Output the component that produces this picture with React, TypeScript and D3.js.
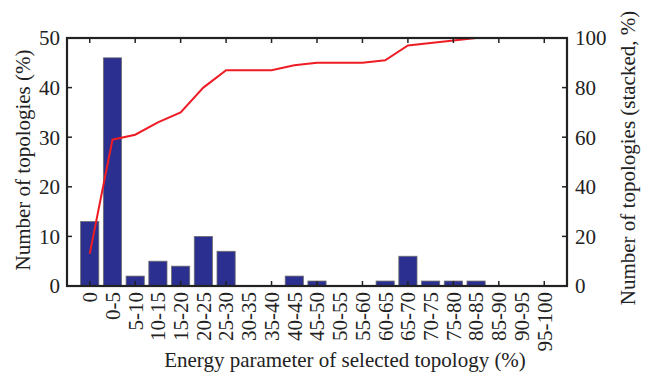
import React, { useEffect, useRef } from 'react';
import * as d3 from 'd3';

const categories = [
  '0', '0-5', '5-10', '10-15', '15-20', '20-25', '25-30', '30-35', '35-40', '40-45',
  '45-50', '50-55', '55-60', '60-65', '65-70', '70-75', '75-80', '80-85', '85-90',
  '90-95', '95-100',
];
const shares = [13, 46, 2, 5, 4, 10, 7, 0, 0, 2, 1, 0, 0, 1, 6, 1, 1, 1, 0, 0, 0];
const stacked = [13, 59, 61, 66, 70, 80, 87, 87, 87, 89, 90, 90, 90, 91, 97, 98, 99, 100, 100, 100, 100];
const leftTicks = [0, 10, 20, 30, 40, 50];
const rightTicks = [0, 20, 40, 60, 80, 100];

const W = 648;
const H = 374;
const margin = { top: 38, right: 81, bottom: 88, left: 67 };
const font = '"Liberation Serif", "DejaVu Serif", serif';

const App: React.FC = () => {
  const ref = useRef<SVGSVGElement | null>(null);

  useEffect(() => {
    if (!ref.current) return;
    const svg = d3.select<SVGSVGElement, unknown>(ref.current);
    svg.selectAll('*').remove();

    const iw = W - margin.left - margin.right;
    const ih = H - margin.top - margin.bottom;

    const x = d3.scaleLinear().domain([-1, categories.length]).range([0, iw]);
    const yL = d3.scaleLinear().domain([0, 50]).range([ih, 0]);
    const yR = d3.scaleLinear().domain([0, 100]).range([ih, 0]);
    const bw = (x(1) - x(0)) * 0.8;

    const g = svg.append('g').attr('transform', `translate(${margin.left},${margin.top})`);

    // bars
    g.selectAll('rect.bar')
      .data(shares)
      .enter()
      .append('rect')
      .attr('class', 'bar')
      .attr('x', (_d: number, i: number) => x(i) - bw / 2)
      .attr('width', bw)
      .attr('y', (d: number) => yL(d))
      .attr('height', (d: number) => ih - yL(d))
      .attr('fill', '#2b2f8f')
      .attr('stroke', '#6e6e6e')
      .attr('stroke-width', (d: number) => (d > 0 ? 0.8 : 0));

    // cumulative line
    const line = d3
      .line<number>()
      .x((_d: number, i: number) => x(i))
      .y((d: number) => yR(d));
    g.append('path')
      .datum(stacked)
      .attr('d', line)
      .attr('fill', 'none')
      .attr('stroke', '#ee1c24')
      .attr('stroke-width', 2);

    // x ticks every other category, top and bottom, pointing inward
    const evenIdx = d3.range(0, categories.length, 2);
    g.selectAll('line.xb')
      .data(evenIdx)
      .enter()
      .append('line')
      .attr('x1', (d: number) => x(d))
      .attr('x2', (d: number) => x(d))
      .attr('y1', ih)
      .attr('y2', ih - 5)
      .attr('stroke', '#222')
      .attr('stroke-width', 1.5);
    g.selectAll('line.xt')
      .data(evenIdx)
      .enter()
      .append('line')
      .attr('x1', (d: number) => x(d))
      .attr('x2', (d: number) => x(d))
      .attr('y1', 0)
      .attr('y2', 5)
      .attr('stroke', '#222')
      .attr('stroke-width', 1.5);

    // left ticks
    leftTicks.forEach((t) => {
      g.append('line')
        .attr('x1', 0).attr('x2', 5)
        .attr('y1', yL(t)).attr('y2', yL(t))
        .attr('stroke', '#222').attr('stroke-width', 1.5);
      g.append('text')
        .attr('x', -7)
        .attr('y', yL(t))
        .attr('dy', '0.35em')
        .attr('text-anchor', 'end')
        .attr('font-family', font)
        .attr('font-size', 21)
        .attr('fill', '#222')
        .text(t);
    });

    // right ticks
    rightTicks.forEach((t) => {
      g.append('line')
        .attr('x1', iw).attr('x2', iw - 5)
        .attr('y1', yR(t)).attr('y2', yR(t))
        .attr('stroke', '#222').attr('stroke-width', 1.5);
      g.append('text')
        .attr('x', iw + 8)
        .attr('y', yR(t))
        .attr('dy', '0.35em')
        .attr('text-anchor', 'start')
        .attr('font-family', font)
        .attr('font-size', 21)
        .attr('fill', '#222')
        .text(t);
    });

    // frame
    g.append('rect')
      .attr('x', 0).attr('y', 0)
      .attr('width', iw).attr('height', ih)
      .attr('fill', 'none')
      .attr('stroke', '#222')
      .attr('stroke-width', 2.2);

    // rotated category labels
    g.selectAll('text.cat')
      .data(categories)
      .enter()
      .append('text')
      .attr('class', 'cat')
      .attr('transform', (_d: string, i: number) => `translate(${x(i)},${ih + 6}) rotate(-90)`)
      .attr('dy', '0.35em')
      .attr('text-anchor', 'end')
      .attr('font-family', font)
      .attr('font-size', 21)
      .attr('fill', '#222')
      .text((d: string) => d);

    // axis titles
    svg.append('text')
      .attr('x', 345)
      .attr('y', 367)
      .attr('text-anchor', 'middle')
      .attr('font-family', font)
      .attr('font-size', 21)
      .attr('fill', '#222')
      .text('Energy parameter of selected topology (%)');

    svg.append('text')
      .attr('transform', `translate(23,${margin.top + ih / 2 - 2}) rotate(-90)`)
      .attr('dy', '0.35em')
      .attr('text-anchor', 'middle')
      .attr('font-family', font)
      .attr('font-size', 21)
      .attr('fill', '#222')
      .text('Number of topologies (%)');

    svg.append('text')
      .attr('transform', `translate(628,${margin.top + ih / 2 - 4}) rotate(-90)`)
      .attr('dy', '0.35em')
      .attr('text-anchor', 'middle')
      .attr('font-family', font)
      .attr('font-size', 21)
      .attr('fill', '#222')
      .text('Number of topologies (stacked, %)');
  }, []);

  return (
    <svg
      ref={ref}
      width={W}
      height={H}
      style={{ position: 'absolute', left: 0, top: 0, background: '#fff' }}
    />
  );
};

export default App;
